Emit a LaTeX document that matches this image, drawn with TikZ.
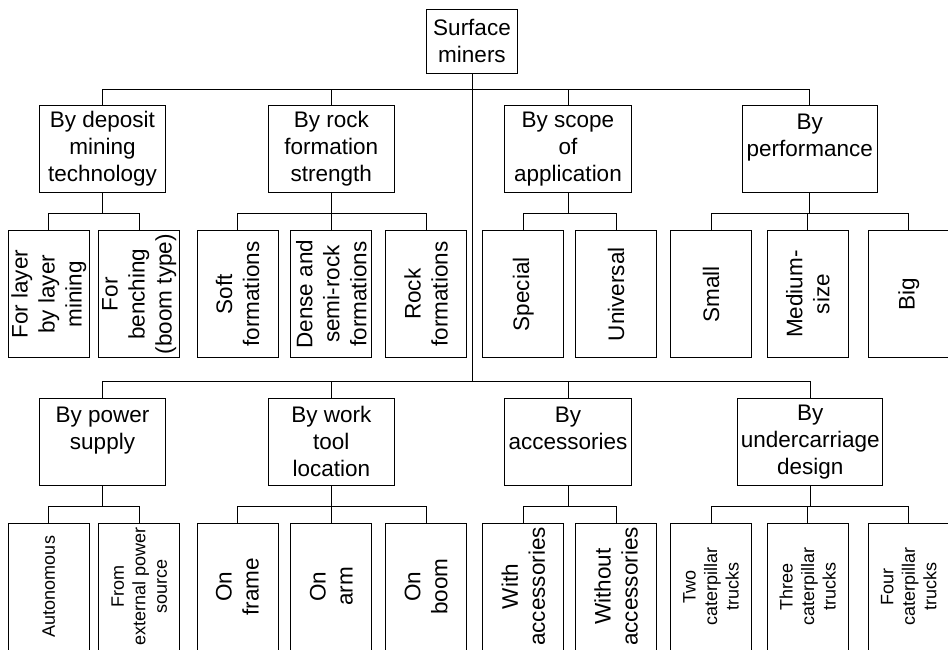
\documentclass[tikz,border=0pt]{standalone}
\usepackage{fontspec}
\setmainfont{Liberation Sans}
\newcommand\fbig{\fontsize{22.5}{27}\selectfont}
\newcommand\fsmall{\fontsize{18}{21.5}\selectfont}
\begin{document}
\begin{tikzpicture}[x=1pt,y=-1pt, line width=0.8pt,
  box/.style={draw, rectangle, inner sep=0pt, align=center, font=\fbig},
  leaf/.style={box, rotate=90, minimum width=127pt, minimum height=81pt},
  small/.style={font=\fsmall}]
\clip (0,0) rectangle (948,649);
% root
\node[box, minimum width=91.7pt, minimum height=64pt] (root) at (472,41) {Surface\\miners};
% top categories
\node[box, minimum width=126.4pt, minimum height=86.6pt] (c1) at (102.5,149) {By deposit\\mining\\technology};
\node[box, minimum width=125.3pt, minimum height=86.6pt] (c2) at (331.3,149) {By rock\\formation\\strength};
\node[box, minimum width=126.6pt, minimum height=86.6pt] (c3) at (568,149) {By scope\\of\\application};
\node[box, minimum width=135.3pt, minimum height=86.6pt] (c4) at (809.7,149) {By\\performance\\\mbox{}};
% bottom categories
\node[box, minimum width=126.4pt, minimum height=86.7pt] (c5) at (102.5,441.7) {By power\\supply\\\mbox{}};
\node[box, minimum width=125.3pt, minimum height=86.7pt] (c6) at (331.3,441.7) {By work\\tool\\location};
\node[box, minimum width=126.6pt, minimum height=86.7pt] (c7) at (568,441.7) {By\\accessories\\\mbox{}};
\node[box, minimum width=145pt, minimum height=86.7pt] (c8) at (810.2,441.7) {By\\undercarriage\\design};
% top leaves
\node[leaf] (l11) at (48.8,294.2) {For layer\\by layer\\mining};
\node[leaf] (l12) at (139.3,294.2) {For\\benching\\(boom type)};
\node[leaf] (l21) at (237.5,294.2) {Soft\\formations};
\node[leaf] (l22) at (331.3,294.2) {Dense and\\semi-rock\\formations};
\node[leaf] (l23) at (426.2,294.2) {Rock\\formations};
\node[leaf] (l31) at (523.3,294.2) {Special};
\node[leaf] (l32) at (616,294.2) {Universal};
\node[leaf] (l41) at (711,294.2) {Small};
\node[leaf] (l42) at (807.7,294.2) {Medium-\\size};
\node[leaf] (l43) at (908.7,294.2) {Big};
% bottom leaves
\node[leaf, small] (b11) at (48.8,586.5) {Autonomous};
\node[leaf, small] (b12) at (139.3,586.5) {From\\external power\\source};
\node[leaf] (b21) at (237.5,586.5) {On\\frame};
\node[leaf] (b22) at (331.3,586.5) {On\\arm};
\node[leaf] (b23) at (426.2,586.5) {On\\boom};
\node[leaf] (b31) at (523.3,586.5) {With\\accessories};
\node[leaf] (b32) at (616,586.5) {Without\\accessories};
\node[leaf, small] (b41) at (711,586.5) {Two\\caterpillar\\trucks};
\node[leaf, small] (b42) at (807.7,586.5) {Three\\caterpillar\\trucks};
\node[leaf, small] (b43) at (908.7,586.5) {Four\\caterpillar\\trucks};
% connectors root -> categories
\foreach \c in {c1,c2,c3,c4}
  \draw (root.south) -- ++(0,15.7) -| (\c.north);
\foreach \c in {c5,c6,c7,c8}
  \draw (root.south) -- ++(0,307.7) -| (\c.north);
% connectors categories -> leaves
\foreach \c/\l in {c1/l11,c1/l12,c2/l21,c2/l22,c2/l23,c3/l31,c3/l32,c4/l41,c4/l42,c4/l43,
                   c5/b11,c5/b12,c6/b21,c6/b22,c6/b23,c7/b31,c7/b32,c8/b41,c8/b42,c8/b43}
  \draw (\c.south) -- ++(0,21) -| (\l.east);
\end{tikzpicture}
\end{document}
